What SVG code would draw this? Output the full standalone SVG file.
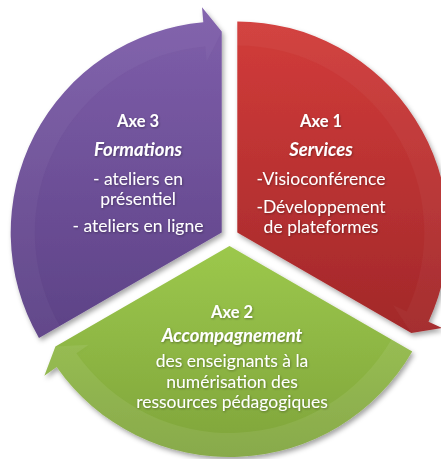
<svg xmlns="http://www.w3.org/2000/svg" width="441" height="459" viewBox="0 0 441 459">
  <defs>
    <linearGradient id="gPurple" x1="0" y1="0" x2="0" y2="1">
      <stop offset="0" stop-color="#7f5fab"/>
      <stop offset="1" stop-color="#5d4286"/>
    </linearGradient>
    <linearGradient id="gRed" x1="0" y1="0" x2="0" y2="1">
      <stop offset="0" stop-color="#d23c3a"/>
      <stop offset="1" stop-color="#a2282a"/>
    </linearGradient>
    <linearGradient id="gGreen" x1="0" y1="0" x2="0" y2="1">
      <stop offset="0" stop-color="#9cc84c"/>
      <stop offset="1" stop-color="#7fa43b"/>
    </linearGradient>
    <filter id="dropShadow" x="-10%" y="-10%" width="130%" height="130%">
      <feDropShadow dx="2" dy="3" stdDeviation="2.5" flood-color="#000" flood-opacity="0.35"/>
    </filter>
    <filter id="rimShadow" x="-10%" y="-10%" width="130%" height="130%">
      <feDropShadow dx="1" dy="1.5" stdDeviation="1.2" flood-color="#000" flood-opacity="0.22"/>
    </filter>
    <filter id="textShadow" x="-10%" y="-20%" width="130%" height="150%">
      <feDropShadow dx="0.8" dy="1" stdDeviation="0.8" flood-color="#000" flood-opacity="0.35"/>
    </filter>
  </defs>
  <style>
    .rim { fill: #ffffff; fill-opacity: 0.03; filter: url(#rimShadow); }
    .label { font-family: "Lato", "Liberation Sans", sans-serif; fill: #ffffff; text-anchor: middle; filter: url(#textShadow); }
    .title { font-weight: bold; font-size: 16.5px; }
    .sub { font-weight: bold; font-style: italic; font-size: 18.5px; }
    .body { font-size: 17.5px; }
  </style>

  <!-- Axe 3: purple segment, left -->
  <g id="axe3">
    <path filter="url(#dropShadow)" fill="url(#gPurple)" d="M221.71 232.5 L38.98 338 A211 211 0 0 1 203.32 22.3 L202.01 7.36 L221.71 31.5 Z"/>
    <path class="rim" d="M38.98 338 A211 211 0 0 1 203.32 22.3 L202.01 7.36 L221.71 31.5 L206.72 61.16 L205.41 46.21 A187 187 0 0 0 59.76 326 Z"/>
    <text class="label title" x="138" y="127">Axe 3</text>
    <text class="label sub" x="138" y="156">Formations</text>
    <text class="label body" x="138" y="185">- ateliers en</text>
    <text class="label body" x="138" y="205">présentiel</text>
    <text class="label body" x="138" y="232">- ateliers en ligne</text>
  </g>

  <!-- Axe 1: red segment, right -->
  <g id="axe1">
    <path filter="url(#dropShadow)" fill="url(#gRed)" d="M237.29 232.5 L237.29 21.5 A211 211 0 0 1 428.52 321.67 L442.12 328.01 L411.36 333 Z"/>
    <path class="rim" d="M237.29 21.5 A211 211 0 0 1 428.52 321.67 L442.12 328.01 L411.36 333 L393.18 305.19 L406.77 311.53 A187 187 0 0 0 237.29 45.5 Z"/>
    <text class="label title" x="321" y="127">Axe 1</text>
    <text class="label sub" x="321" y="156">Services</text>
    <text class="label body" x="321" y="185">-Visioconférence</text>
    <text class="label body" x="321" y="213">-Développement</text>
    <text class="label body" x="321" y="233">de plateformes</text>
  </g>

  <!-- Axe 2: green segment, bottom -->
  <g id="axe2">
    <path filter="url(#dropShadow)" fill="url(#gGreen)" d="M229.5 246 L412.23 351.5 A211 211 0 0 1 56.66 367.03 L44.37 375.63 L55.43 346.5 Z"/>
    <path class="rim" style="fill-opacity:0.07" d="M412.23 351.5 A211 211 0 0 1 56.66 367.03 L44.37 375.63 L55.43 346.5 L88.61 344.66 L76.32 353.26 A187 187 0 0 0 391.45 339.5 Z"/>
    <text class="label title" x="232" y="318">Axe 2</text>
    <text class="label sub" x="232" y="342">Accompagnement</text>
    <text class="label body" x="232" y="367">des enseignants à la</text>
    <text class="label body" x="232" y="388">numérisation des</text>
    <text class="label body" x="232" y="408">ressources pédagogiques</text>
  </g>

  <!-- no separate connectors: the cycle arrows are part of each segment -->
  <g id="connectors"/>
</svg>
